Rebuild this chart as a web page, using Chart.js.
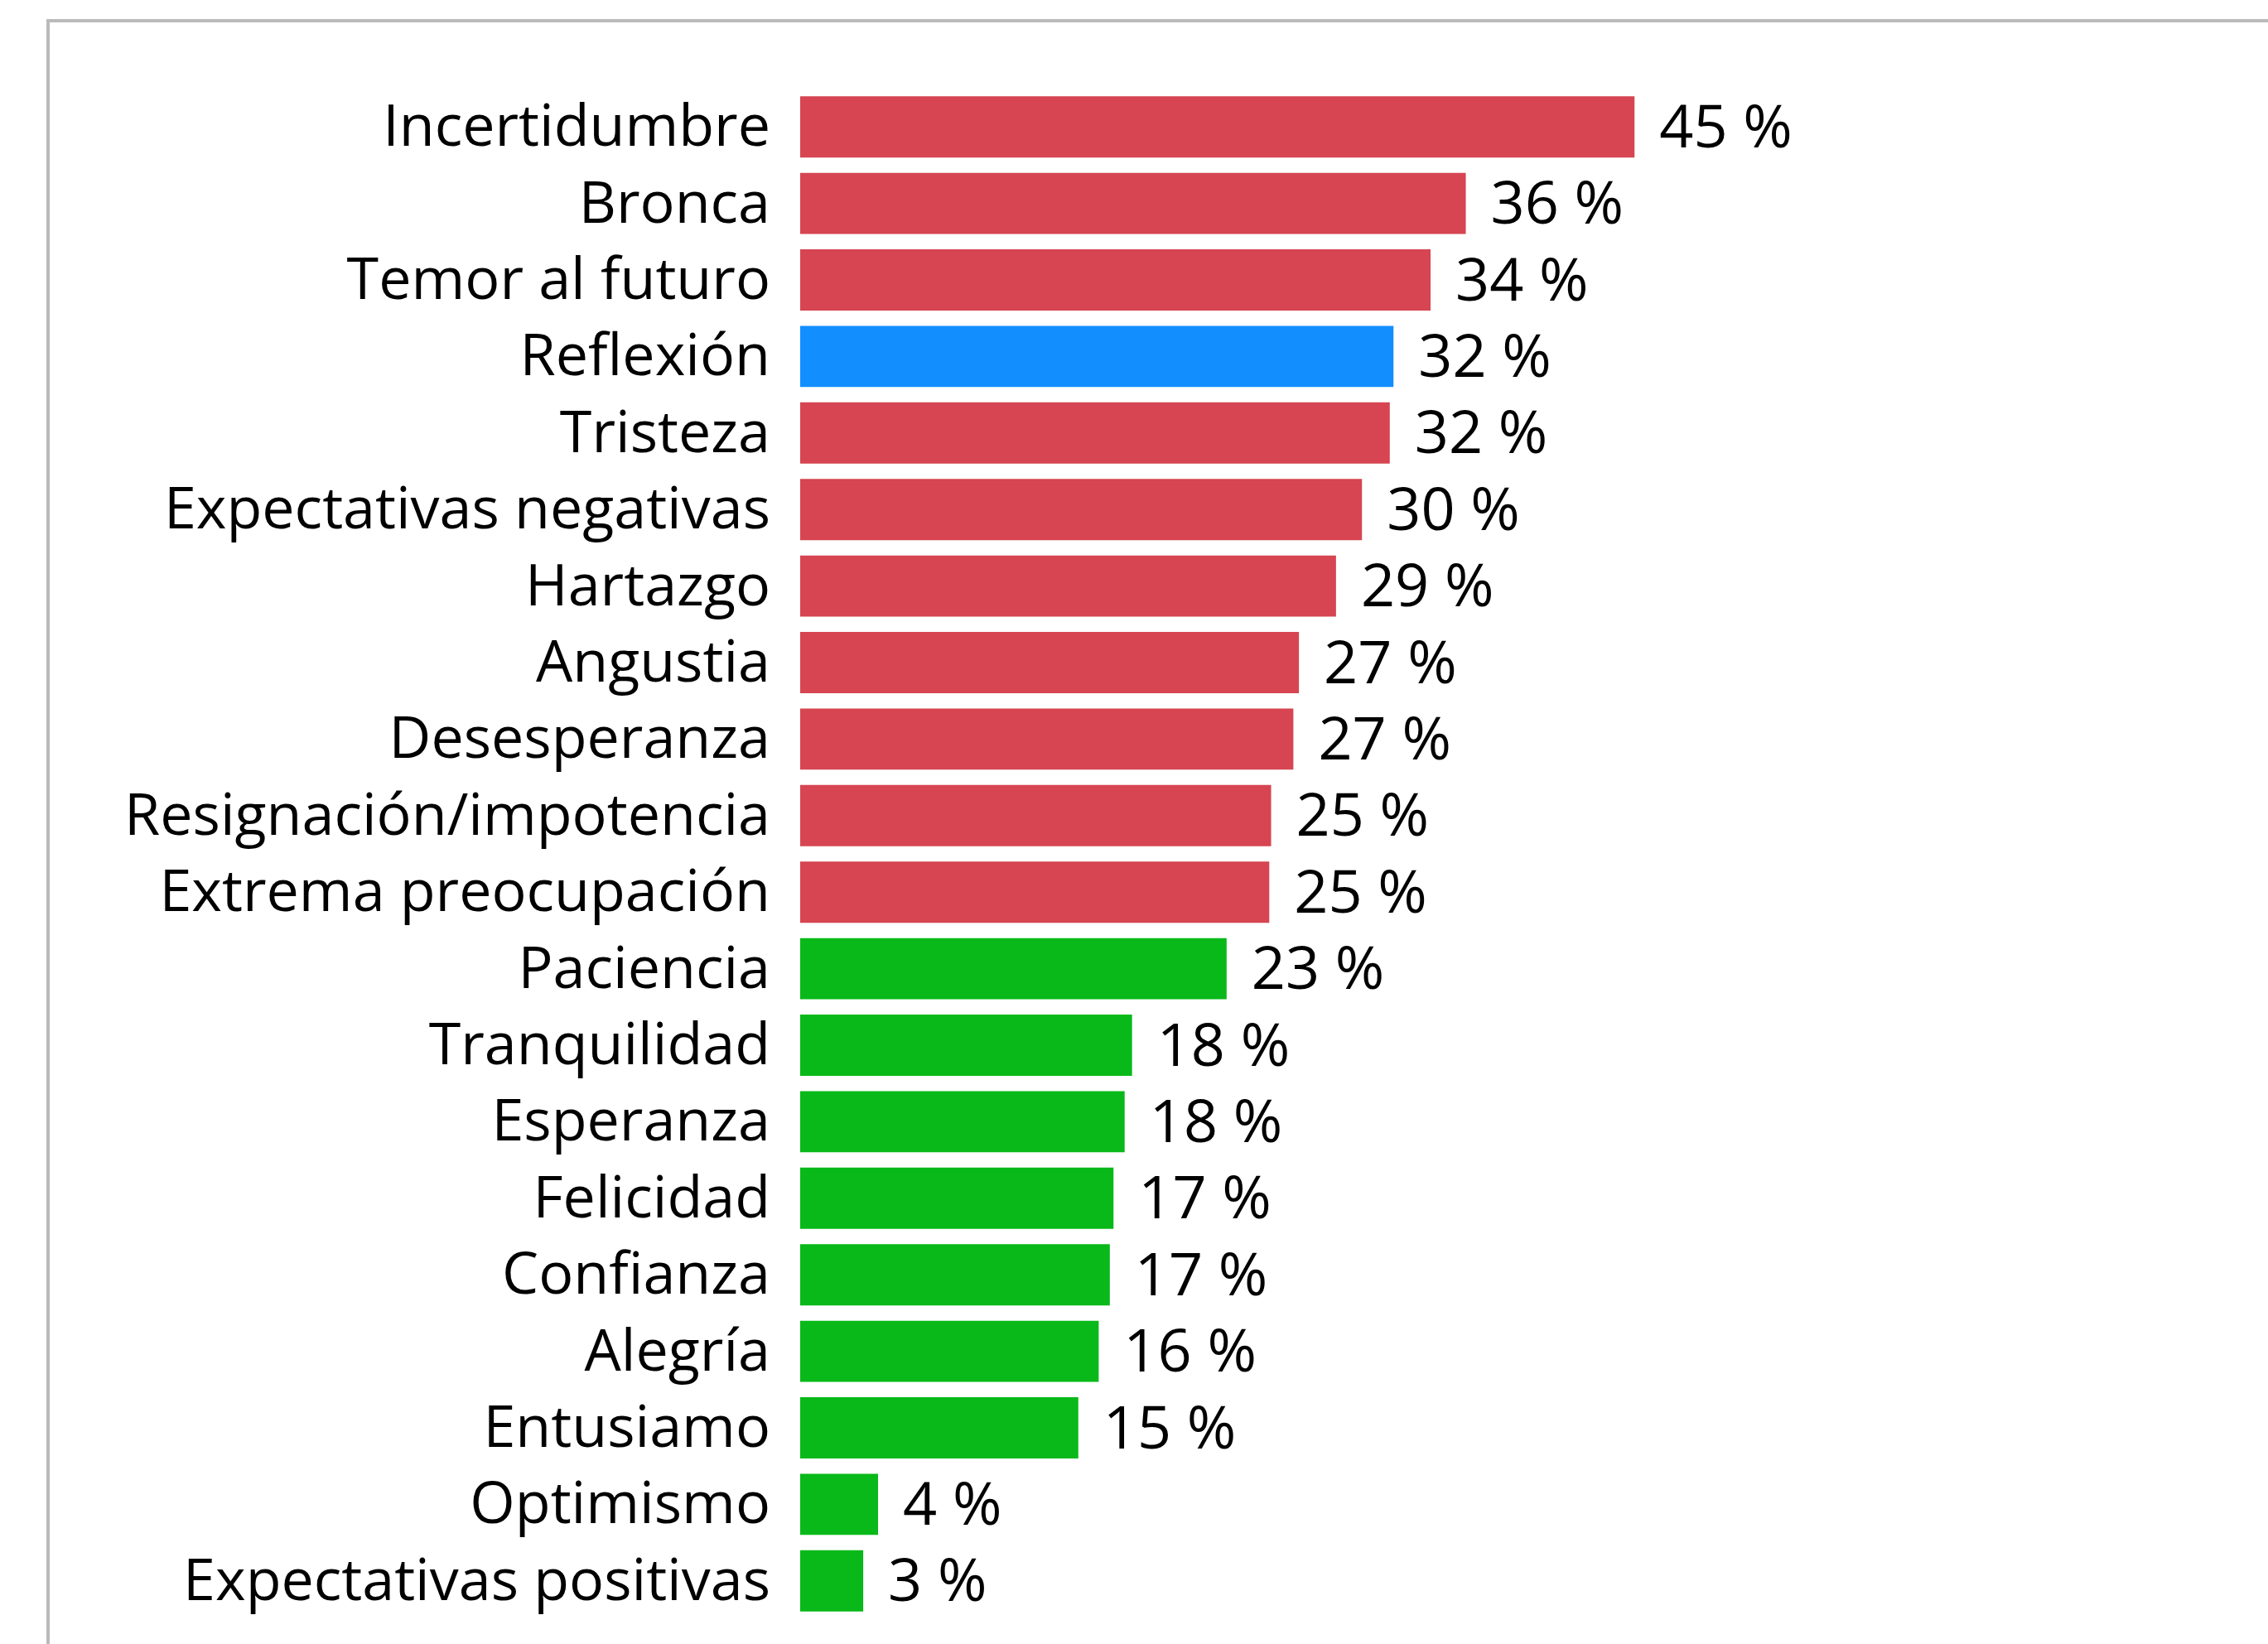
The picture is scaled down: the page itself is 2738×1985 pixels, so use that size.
<!DOCTYPE html>
<html>
<head>
<meta charset="utf-8">
<script src="https://cdn.jsdelivr.net/npm/chart.js@4.4.1/dist/chart.umd.min.js"></script>
<style>
  body { margin: 0; background: #fff; }
  #wrap { position: relative; width: 2738px; height: 1985px; overflow: hidden; }
  #frame { position: absolute; left: 56px; top: 23px; right: -10px; bottom: -10px;
           border-top: 4px solid #bababa; border-left: 4px solid #bababa; }
  canvas { position: absolute; left: 0; top: 0; }
</style>
</head>
<body>
<div id="wrap">
  <div id="frame"></div>
  <canvas id="emotionsChart" width="2738" height="1985"></canvas>
</div>
<script>
const categories = ['Incertidumbre', 'Bronca', 'Temor al futuro', 'Reflexión', 'Tristeza',
  'Expectativas negativas', 'Hartazgo', 'Angustia', 'Desesperanza', 'Resignación/impotencia',
  'Extrema preocupación', 'Paciencia', 'Tranquilidad', 'Esperanza', 'Felicidad', 'Confianza',
  'Alegría', 'Entusiamo', 'Optimismo', 'Expectativas positivas'];
const values = [45, 35.9, 34.0, 32.0, 31.8, 30.3, 28.9, 26.9, 26.6, 25.4,
  25.3, 23.0, 17.9, 17.5, 16.9, 16.7, 16.1, 15.0, 4.2, 3.4];
const tone = ['neg', 'neg', 'neg', 'neu', 'neg', 'neg', 'neg', 'neg', 'neg', 'neg',
  'neg', 'pos', 'pos', 'pos', 'pos', 'pos', 'pos', 'pos', 'pos', 'pos'];

const toneColors = { neg: '#d64551', neu: '#138eff', pos: '#08b919' };
const FONT = "'Open Sans', 'Noto Sans', sans-serif";

const valueLabels = {
    id: 'valueLabels',
    afterDatasetsDraw(chart) {
        const ctx = chart.ctx;
        const meta = chart.getDatasetMeta(0);
        ctx.save();
        ctx.font = '72px ' + FONT;
        ctx.fillStyle = '#000';
        ctx.textAlign = 'left';
        ctx.textBaseline = 'middle';
        meta.data.forEach((bar, i) => {
            ctx.fillText(Math.round(values[i]) + ' %', bar.x + 30, bar.y + 4);
        });
        ctx.restore();
    }
};

const ctx = document.getElementById('emotionsChart').getContext('2d');
new Chart(ctx, {
    type: 'bar',
    data: {
        labels: categories,
        datasets: [{
            data: values,
            backgroundColor: tone.map(t => toneColors[t]),
            borderWidth: 0,
            barPercentage: 0.8,
            categoryPercentage: 1
        }]
    },
    options: {
        indexAxis: 'y',
        responsive: false,
        animation: false,
        layout: { padding: { left: 0, right: 429, top: 107, bottom: 30 } },
        plugins: {
            legend: { display: false },
            tooltip: { enabled: false }
        },
        scales: {
            x: { display: false, min: 0, max: 60 },
            y: {
                afterFit(scale) {
                    scale.width = 966;
                    scale.paddingTop = 0;
                    scale.paddingBottom = 0;
                },
                grid: { display: false, drawTicks: false },
                border: { display: false },
                ticks: {
                    padding: 36,
                    labelOffset: 3,
                    color: '#000',
                    font: { family: FONT, size: 70 }
                }
            }
        }
    },
    plugins: [valueLabels]
});
</script>
</body>
</html>
